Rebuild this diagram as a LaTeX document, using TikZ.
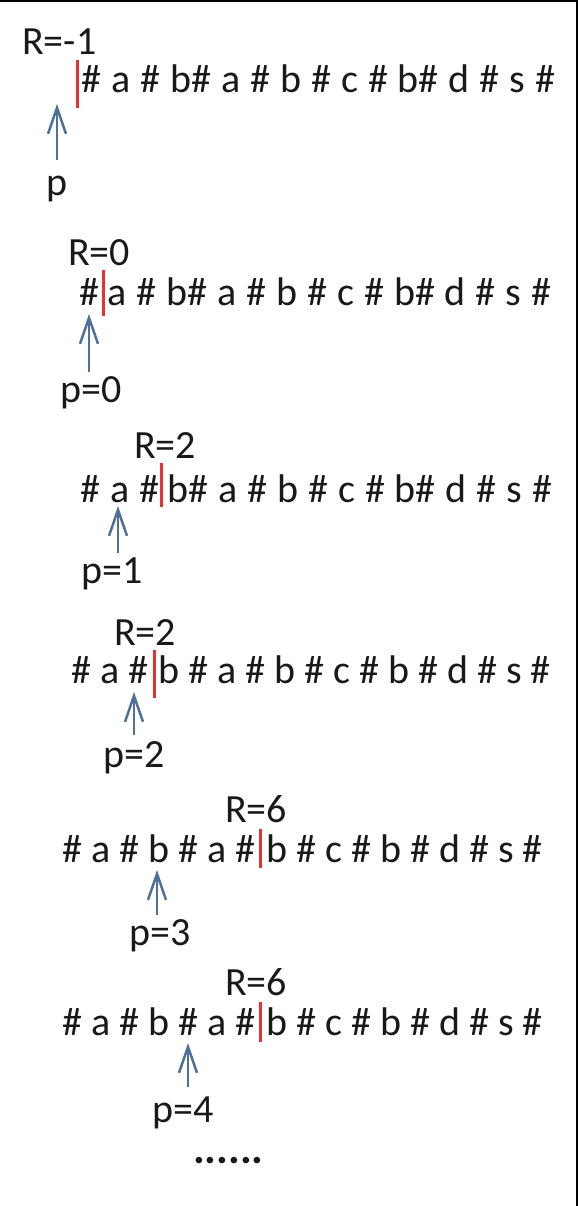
\documentclass[tikz,border=0pt]{standalone}
\usepackage{fontspec}
\setmainfont{Carlito}
\usetikzlibrary{arrows.meta}
\definecolor{arrowblue}{RGB}{79,113,153}
\definecolor{barred}{RGB}{230,50,50}
\definecolor{ink}{RGB}{25,25,25}
\newcommand\myWideSpace{\spaceskip=10pt\relax}
\begin{document}
\begin{tikzpicture}[x=1pt,y=-1pt,
  txt/.style={font=\fontsize{40}{48}\selectfont, inner sep=0pt, anchor=base west, text=ink},
  lbl/.style={txt, anchor=base},
  redbar/.style={draw=barred, line width=3pt},
  parrow/.style={draw=arrowblue, line width=2.5pt, -{Straight Barb[length=26pt,width=18pt,line width=2.5pt]}},
  frame/.style={draw=black, line width=2.5pt}]
\useasboundingbox (0,0) rectangle (578,1206);
\draw[frame] (0,1.25) -- (576.75,1.25) -- (576.75,1206);

% Row 1
\node[txt] (r1) at (22,55) {R=-1};
\node[txt] (s1) at (81,93) {\myWideSpace\# a \# b\# a \# b \# c \# b\# d \# s \#};
\coordinate (b1t) at (77,60); \coordinate (b1b) at (77,108);
\draw[redbar] (b1t) -- (b1b);
\coordinate (a1t) at (57,160); \coordinate (a1h) at (57,104);
\draw[parrow] (a1t) -- (a1h);
\node[lbl] (p1) at (57,196) {p};

% Row 2
\node[txt] (r2) at (68,265) {R=0};
\node[txt] (s2l) at (79,305) {\#};
\node[txt] (s2r) at (107,305) {\myWideSpace a \# b\# a \# b \# c \# b\# d \# s \#};
\coordinate (b2t) at (103,270); \coordinate (b2b) at (103,316);
\draw[redbar] (b2t) -- (b2b);
\coordinate (a2t) at (89,372); \coordinate (a2h) at (89,314);
\draw[parrow] (a2t) -- (a2h);
\node[lbl] (p2) at (91,402) {p=0};

% Row 3
\node[txt] (r3) at (134,458) {R=2};
\node[txt] (s3l) at (80,502) {\myWideSpace\# a \#};
\node[txt] (s3r) at (167,502) {\myWideSpace b\# a \# b \# c \# b\# d \# s \#};
\coordinate (b3t) at (161,463); \coordinate (b3b) at (161,507);
\draw[redbar] (b3t) -- (b3b);
\coordinate (a3t) at (118,553); \coordinate (a3h) at (118,506);
\draw[parrow] (a3t) -- (a3h);
\node[lbl] (p3) at (112,583) {p=1};

% Row 4
\node[txt] (r4) at (114,645) {R=2};
\node[txt] (s4l) at (71,683) {\# a \#};
\node[txt] (s4r) at (158,683) {b \# a \# b \# c \# b \# d \# s \#};
\coordinate (b4t) at (154,650); \coordinate (b4b) at (154,698);
\draw[redbar] (b4t) -- (b4b);
\coordinate (a4t) at (134,735); \coordinate (a4h) at (134,692);
\draw[parrow] (a4t) -- (a4h);
\node[lbl] (p4) at (134,767) {p=2};

% Row 5
\node[txt] (r5) at (225,822) {R=6};
\node[txt] (s5l) at (62,862) {\# a \# b \# a \#};
\node[txt] (s5r) at (266,862) {b \# c \# b \# d \# s \#};
\coordinate (b5t) at (260,829); \coordinate (b5b) at (260,868);
\draw[redbar] (b5t) -- (b5b);
\coordinate (a5t) at (157,915); \coordinate (a5h) at (157,870);
\draw[parrow] (a5t) -- (a5h);
\node[lbl] (p5) at (160,945) {p=3};

% Row 6
\node[txt] (r6) at (225,995) {R=6};
\node[txt] (s6l) at (62,1035) {\# a \# b \# a \#};
\node[txt] (s6r) at (266,1035) {b \# c \# b \# d \# s \#};
\coordinate (b6t) at (260,1002); \coordinate (b6b) at (260,1042);
\draw[redbar] (b6t) -- (b6b);
\coordinate (a6t) at (188,1087); \coordinate (a6h) at (188,1043);
\draw[parrow] (a6t) -- (a6h);
\node[lbl] (p6) at (183,1122) {p=4};

\node[txt, font=\fontsize{44}{50}\selectfont\bfseries] (dots) at (193,1163) {......};
\end{tikzpicture}
\end{document}
